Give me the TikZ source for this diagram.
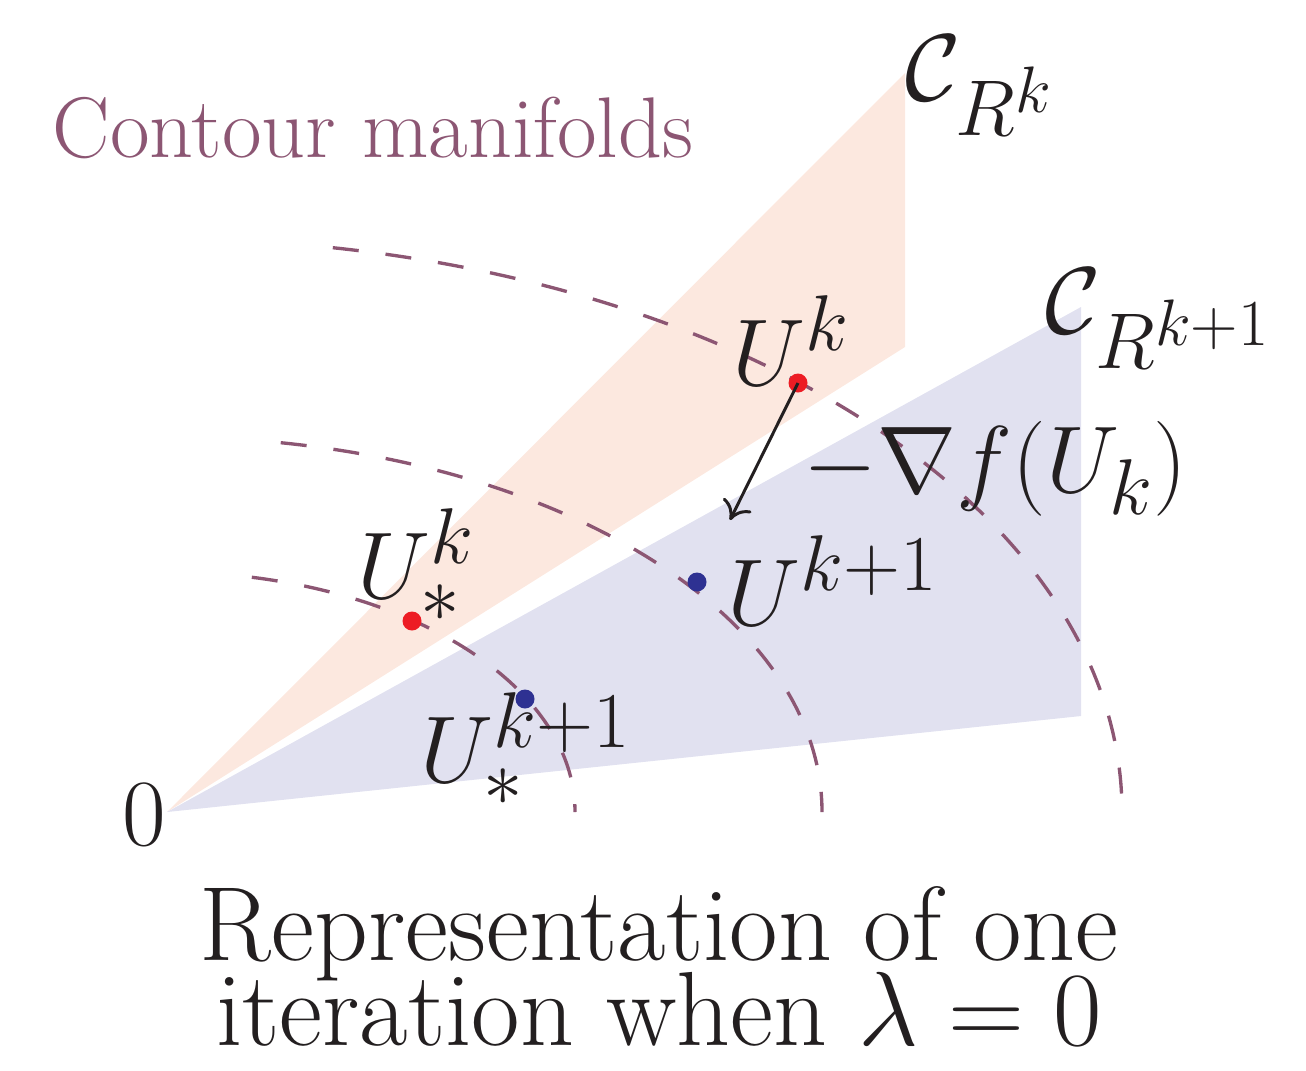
\RequirePackage{fix-cm}
\documentclass[tikz,border=0pt]{standalone}
\usepackage{amsmath}
\usepackage{xcolor}
\usepackage{tikz}
\usetikzlibrary{arrows.meta}

\DeclareMathSizes{27}{27}{22.5}{18.7}
\DeclareMathSizes{30}{30}{25}{20.8}

\definecolor{contour}{RGB}{140,86,115}
\definecolor{conefill}{RGB}{252,232,223}
\definecolor{nextfill}{RGB}{225,225,240}
\definecolor{dotred}{RGB}{237,28,36}
\definecolor{dotblue}{RGB}{46,49,146}
\definecolor{ink}{RGB}{35,31,32}

\begin{document}
\begin{tikzpicture}[
  lab/.style={inner sep=0pt, anchor=base west, text=ink, font=\fontsize{27}{32}\selectfont},
  caption/.style={inner sep=0pt, anchor=base, text=ink, font=\fontsize{30}{36}\selectfont},
  pt/.style={circle, fill=#1, inner sep=0pt, minimum size=0.19cm},
  level/.style={contour, line width=0.95pt, dash pattern=on 7.4pt off 7.7pt},
  grad/.style={-{Computer Modern Rightarrow[length=5pt, width=9pt]}, ink, line width=0.85pt}
]
  \useasboundingbox (-1.67,-2.58) rectangle (11.39,8.12);
  \coordinate (O) at (0,0);

  % the two manifolds
  \fill[conefill] (O) -- (7.38,7.39) -- (7.38,4.65) -- cycle;
  \fill[nextfill] (O) -- (9.14,5.05) -- (9.14,0.96) -- cycle;

  % level sets of f
  \draw[level] (O) ++(78:4.08cm and 2.40cm) arc[start angle=78, end angle=0, x radius=4.08cm, y radius=2.40cm];
  \draw[level] (O) ++(80:6.55cm and 3.75cm) arc[start angle=80, end angle=0, x radius=6.55cm, y radius=3.75cm];
  \draw[level] (O) ++(80:9.55cm and 5.73cm) arc[start angle=80, end angle=0, x radius=9.55cm, y radius=5.73cm];

  % iterates
  \node[pt=dotred] (uk) at (6.31,4.29) {};
  \node[pt=dotred] (ustark) at (2.45,1.91) {};
  \node[pt=dotblue] (ukp) at (5.30,2.30) {};
  \node[pt=dotblue] (ustarkp) at (3.58,1.13) {};

  \coordinate (gradtip) at (5.63,2.92);
  \draw[grad] (uk.center) -- (gradtip);

  % labels
  \node[lab] (ukl) at (5.65,4.27) {$U^k$};
  \node[lab] (ustarkl) at (1.90,2.14) {$U^k_*$};
  \node[lab] (ukpl) at (5.60,1.87) {$U^{k+1}$};
  \node[lab] (ustarkpl) at (2.53,0.30) {$U^{k+1}_*$};
  \node[lab] (gradl) at (6.36,3.20) {$-\nabla f(U_k)$};
  \node[lab] (crk) at (7.38,7.12) {$\mathcal{C}_{R^k}$};
  \node[lab] (crkp) at (8.78,4.79) {$\mathcal{C}_{R^{k+1}}$};
  \node[lab] (zero) at (-0.45,-0.33) {$0$};

  \node[inner sep=0pt, anchor=base west, text=contour, font=\fontsize{24.5}{29}\selectfont] (title) at (-1.15,6.55) {Contour manifolds};
  \node[caption] (cap1) at (4.92,-1.48) {Representation of one};
  \node[caption] (cap2) at (4.92,-2.33) {iteration when $\lambda=0$};
\end{tikzpicture}
\end{document}
